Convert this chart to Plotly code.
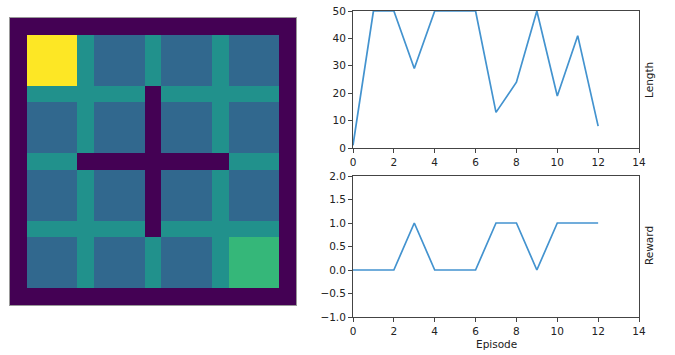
import plotly.graph_objects as go

W, H = 675, 355

# Gridworld map: '#' wall, '.' room cell, '+' open passage, 'A' agent, 'G' goal
grid_rows = [
    "#################",
    "#AAA+...+...+...#",
    "#AAA+...+...+...#",
    "#AAA+...+...+...#",
    "#+++++++#+++++++#",
    "#...+...#...+...#",
    "#...+...#...+...#",
    "#...+...#...+...#",
    "#+++#########+++#",
    "#...+...#...+...#",
    "#...+...#...+...#",
    "#...+...#...+...#",
    "#+++++++#+++++++#",
    "#...+...+...+GGG#",
    "#...+...+...+GGG#",
    "#...+...+...+GGG#",
    "#################",
]
cell_values = {"#": 0, ".": 1, "+": 1.5, "G": 2, "A": 3}

episodes = list(range(13))
lengths = [1, 50, 50, 29, 50, 50, 50, 13, 24, 50, 19, 41, 8]
rewards = [0, 0, 0, 1, 0, 0, 0, 1, 1, 0, 1, 1, 1]

z = [[cell_values[c] for c in row] for row in grid_rows]

viridis = [
    [0.0, "#440154"], [0.1111, "#482878"], [0.2222, "#3e4989"],
    [0.3333, "#31688e"], [0.4444, "#26828e"], [0.5, "#21918c"],
    [0.5556, "#1f9e89"], [0.6667, "#35b779"], [0.7778, "#6ece58"],
    [0.8889, "#b5de2b"], [1.0, "#fde725"],
]

line_color = "#4393cf"
font = dict(family="DejaVu Sans", size=10.5, color="#222222")

fig = go.Figure()
fig.add_trace(go.Heatmap(z=z, colorscale=viridis, zmin=0, zmax=3,
                         showscale=False, xaxis="x3", yaxis="y3",
                         hoverinfo="skip"))
fig.add_trace(go.Scatter(x=episodes, y=lengths, mode="lines",
                         line=dict(color=line_color, width=1.7),
                         xaxis="x", yaxis="y", showlegend=False))
fig.add_trace(go.Scatter(x=episodes, y=rewards, mode="lines",
                         line=dict(color=line_color, width=1.7),
                         xaxis="x2", yaxis="y2", showlegend=False))

def px_x(a, b):
    return [a / W, b / W]

def px_y(top, bottom):
    return [1 - bottom / H, 1 - top / H]

common = dict(showgrid=False, zeroline=False, showline=True, mirror=True,
              linecolor="#444444", linewidth=1, ticks="outside", ticklen=4,
              tickcolor="#444444", tickfont=font, automargin=False)

fig.update_layout(
    width=W, height=H, margin=dict(l=0, r=0, t=0, b=0, autoexpand=False),
    paper_bgcolor="white", plot_bgcolor="white", font=font,
    xaxis=dict(domain=px_x(353, 639), range=[0, 14], tickvals=list(range(0, 15, 2)),
               anchor="y", **common),
    yaxis=dict(domain=px_y(11, 148), range=[0, 50], tickvals=[0, 10, 20, 30, 40, 50],
               anchor="x", **common),
    xaxis2=dict(domain=px_x(353, 639), range=[0, 14], tickvals=list(range(0, 15, 2)),
                anchor="y2", **common),
    yaxis2=dict(domain=px_y(176, 317), range=[-1, 2],
                tickvals=[-1, -0.5, 0, 0.5, 1, 1.5, 2],
                ticktext=["−1.0", "−0.5", "0.0", "0.5", "1.0", "1.5", "2.0"],
                anchor="x2", **common),
    xaxis3=dict(domain=px_x(10, 296), range=[-0.5, 16.5], showticklabels=False,
                ticks="", showgrid=False, zeroline=False, showline=True, mirror=True,
                linecolor="#999999", linewidth=1, anchor="y3", automargin=False),
    yaxis3=dict(domain=px_y(18, 305), range=[16.5, -0.5], showticklabels=False,
                ticks="", showgrid=False, zeroline=False, showline=True, mirror=True,
                linecolor="#999999", linewidth=1, anchor="x3", automargin=False),
    annotations=[
        dict(text="Length", x=649 / W, y=1 - 80 / H, xref="paper", yref="paper",
             xanchor="center", yanchor="middle",
             textangle=-90, showarrow=False, font=font),
        dict(text="Reward", x=649 / W, y=1 - 246 / H, xref="paper", yref="paper",
             xanchor="center", yanchor="middle",
             textangle=-90, showarrow=False, font=font),
        dict(text="Episode", x=496 / W, y=1 - 344 / H, xref="paper", yref="paper",
             xanchor="center", yanchor="middle",
             showarrow=False, font=font),
    ],
)

fig.write_html("out.html")
